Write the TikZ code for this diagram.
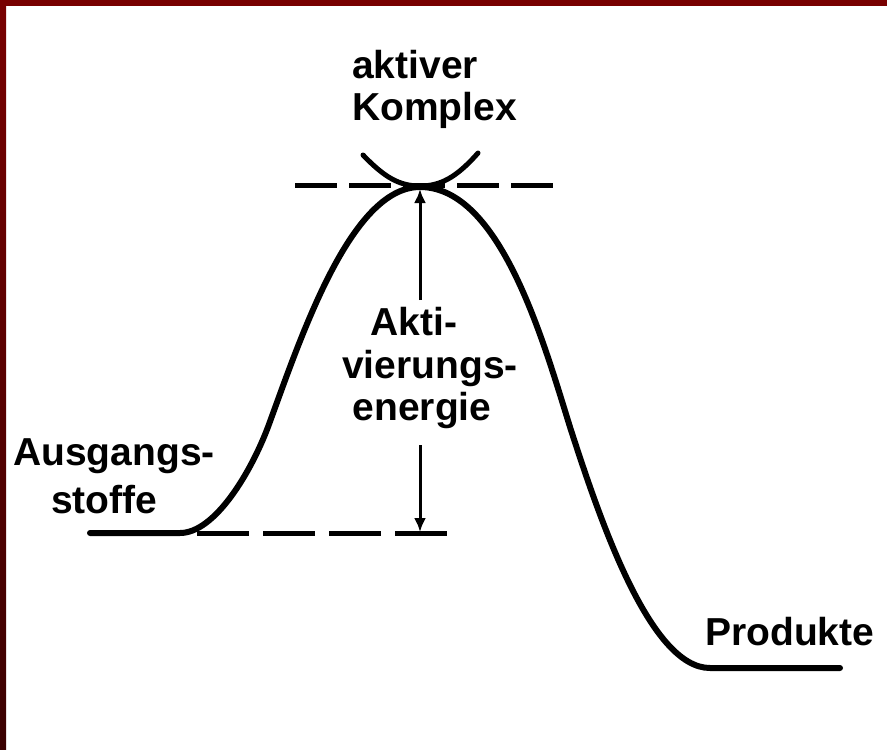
\documentclass[tikz,border=0pt]{standalone}
\usepackage{fontspec}
\setmainfont{Liberation Sans}
\usetikzlibrary{arrows.meta}
\definecolor{framered}{HTML}{780000}
\definecolor{framedark}{HTML}{3A0000}
\begin{document}
\begin{tikzpicture}[x=1pt,y=-1pt,
  lbl/.style={inner sep=0pt, font=\fontsize{39}{42}\selectfont\bfseries},
  curveline/.style={line width=6pt, line join=round, line cap=round},
  guide/.style={line width=5pt},
  arr/.style={line width=3pt, -{Latex[length=14pt,width=12pt]}}]
\useasboundingbox (0,0) rectangle (887,750);
\fill[white] (0,0) rectangle (887,750);
% frame
\fill[framered] (0,0) rectangle (887,6);
\shade[top color=framered, bottom color=framedark] (0,0) rectangle (6,750);

% energy curve
\draw[curveline] (90,533) -- (180,533)
  .. controls (215,533) and (251,472) .. (268,427)
  .. controls (300,340) and (350,187) .. (420,187)
  .. controls (500,187) and (543,340) .. (570,427)
  .. controls (600,520) and (650,668) .. (710,668)
  -- (840,668);

% dashed guide lines
\draw[guide, dash pattern=on 42pt off 12pt] (295,185) -- (553,185);
\draw[guide, dash pattern=on 52pt off 14pt] (197,533) -- (447,533);

% activated complex arc
\draw[line width=5pt, line cap=round] (363,155) .. controls (385,178) and (400,186) .. (420,186)
  .. controls (440,186) and (456,178) .. (478,153);

% labels
\node[lbl, anchor=base west] (ak1) at (352,78) {aktiver};
\node[lbl, anchor=base west] (ak2) at (352,120) {Komplex};
\node[lbl, anchor=base] (ae1) at (414,335) {Akti-};
\node[lbl, anchor=base] (ae2) at (430,378) {vierungs-};
\node[lbl, anchor=base] (ae3) at (422,420) {energie};
\node[lbl, anchor=base west] (as1) at (13,465) {Ausgangs-};
\node[lbl, anchor=base west] (as2) at (51,513) {stoffe};
\node[lbl, anchor=base west] (pr) at (705,645) {Produkte};

% activation energy arrow
\coordinate (ts) at (420,189);
\coordinate (bs) at (420,532);
\coordinate (atop) at (420,300);
\coordinate (abot) at (420,445);
\draw[arr] (atop) -- (ts);
\draw[arr] (abot) -- (bs);
\end{tikzpicture}
\end{document}
